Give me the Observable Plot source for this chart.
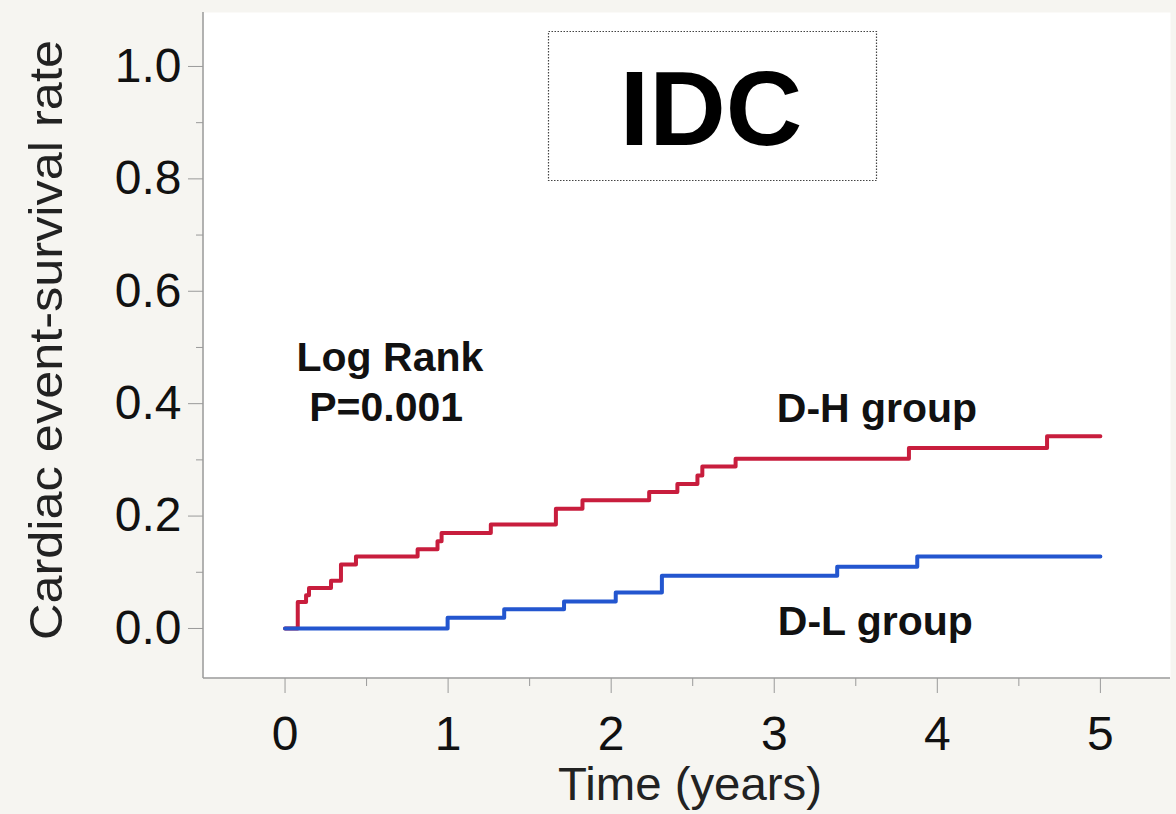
<!DOCTYPE html>
<html>
<head>
<meta charset="utf-8">
<script src="https://cdn.jsdelivr.net/npm/d3@7"></script>
<script src="https://cdn.jsdelivr.net/npm/@observablehq/plot@0.6"></script>
<style>
html, body { margin: 0; padding: 0; background: #f6f5f1; }
#chart { width: 1176px; height: 814px; position: relative; overflow: hidden; }
</style>
</head>
<body>
<div id="chart"></div>
<script>
// ---- data ----
const groups = ["D-H group", "D-L group"];
const groupColors = ["#c81d3d", "#2356cf"];

const dhTime = [0, 0.078, 0.129, 0.147, 0.282, 0.343, 0.435, 0.813, 0.935, 0.960, 1.262, 1.661, 1.824, 2.233, 2.406, 2.529, 2.559, 2.763, 3.826, 4.673, 5.0];
const dhRate = [0, 0.047, 0.059, 0.072, 0.085, 0.114, 0.128, 0.141, 0.155, 0.170, 0.185, 0.213, 0.228, 0.243, 0.257, 0.272, 0.288, 0.302, 0.321, 0.342, 0.342];

const dlTime = [0, 0.997, 1.344, 1.711, 2.028, 2.311, 3.386, 3.877, 5.0];
const dlRate = [0, 0.019, 0.034, 0.048, 0.064, 0.094, 0.110, 0.128, 0.128];

const xTicks = [0, 1, 2, 3, 4, 5];
const xMinorTicks = [0.5, 1.5, 2.5, 3.5, 4.5];
const yTicks = [0, 0.2, 0.4, 0.6, 0.8, 1.0];
const yMinorTicks = [0.1, 0.3, 0.5, 0.7, 0.9];

const titleText = "IDC";
const xLabel = "Time (years)";
const yLabel = "Cardiac event-survival rate";
const statLines = ["Log Rank", "P=0.001"];
const statTime = [0.643, 0.62];
const statRate = [0.482, 0.393];
const groupLabelTime = [3.63, 3.62];
const groupLabelRate = [0.39, 0.011];

// ---- tables built from the arrays ----
const rows = [
  ...dhTime.map((t, i) => ({group: groups[0], time: t, rate: dhRate[i]})),
  ...dlTime.map((t, i) => ({group: groups[1], time: t, rate: dlRate[i]}))
];
const statRows = statLines.map((s, i) => ({text: s, time: statTime[i], rate: statRate[i]}));
const groupRows = groups.map((g, i) => ({text: g, time: groupLabelTime[i], rate: groupLabelRate[i]}));

const FONT = "'Liberation Sans', Arial, Helvetica, sans-serif";
const AXIS_GREY = "#9a9a9a";

const plot = Plot.plot({
  width: 1176,
  height: 814,
  marginLeft: 203,
  marginTop: 12,
  marginRight: 6,
  marginBottom: 136,
  style: {background: "transparent", fontFamily: FONT, overflow: "visible"},
  x: {domain: [-0.5, 5.43]},
  y: {domain: [-0.089, 1.096]},
  color: {domain: groups, range: groupColors},
  marks: [
    Plot.frame({fill: "white", stroke: null}),
    Plot.axisY({ticks: yTicks, tickSize: 15, tickPadding: 7, tickFormat: d => d.toFixed(1), fontSize: 48, stroke: AXIS_GREY, fill: "#111", label: null}),
    Plot.axisY({ticks: yMinorTicks, tickSize: 7, tickFormat: () => "", stroke: AXIS_GREY, label: null}),
    Plot.axisX({ticks: xTicks, tickSize: 15, tickPadding: 22, tickFormat: d => String(d), fontSize: 48, stroke: AXIS_GREY, fill: "#111", label: null}),
    Plot.axisX({ticks: xMinorTicks, tickSize: 8, tickFormat: () => "", stroke: AXIS_GREY, label: null}),
    Plot.line(rows, {x: "time", y: "rate", z: "group", stroke: "group", strokeWidth: 4, curve: "step-after"}),
    Plot.text(statRows, {x: "time", y: "rate", text: "text", fontSize: 41, fontWeight: "bold", fill: "#111"}),
    Plot.text(groupRows, {x: "time", y: "rate", text: "text", fontSize: 41, fontWeight: "bold", fill: "#111"})
  ]
});

document.getElementById("chart").appendChild(plot);

// ---- axis lines (from the plot's own scale ranges) ----
const svg = d3.select(plot);
const [xLeft, xRight] = plot.scale("x").range;
const [yBottom, yTop] = plot.scale("y").range;
svg.append("line")
  .attr("x1", xLeft).attr("x2", xLeft).attr("y1", yTop).attr("y2", yBottom)
  .attr("stroke", AXIS_GREY).attr("stroke-width", 1.5);
svg.append("line")
  .attr("x1", xLeft).attr("x2", xRight).attr("y1", yBottom).attr("y2", yBottom)
  .attr("stroke", AXIS_GREY).attr("stroke-width", 1.5);

// ---- titles and the IDC box ----
svg.append("text")
  .attr("transform", "translate(62,340) rotate(-90)")
  .attr("text-anchor", "middle")
  .attr("font-family", FONT)
  .attr("font-size", 46)
  .attr("fill", "#222")
  .attr("textLength", 600)
  .attr("lengthAdjust", "spacingAndGlyphs")
  .text(yLabel);

svg.append("text")
  .attr("x", 690)
  .attr("y", 800)
  .attr("text-anchor", "middle")
  .attr("font-family", FONT)
  .attr("font-size", 46)
  .attr("fill", "#222")
  .attr("textLength", 264)
  .attr("lengthAdjust", "spacingAndGlyphs")
  .text(xLabel);

svg.append("rect")
  .attr("x", 548.5).attr("y", 31.5)
  .attr("width", 328).attr("height", 149)
  .attr("fill", "white")
  .attr("stroke", "#444")
  .attr("stroke-width", 1.2)
  .attr("stroke-dasharray", "1.5,1.5");

svg.append("text")
  .attr("x", 711)
  .attr("y", 145)
  .attr("text-anchor", "middle")
  .attr("font-family", FONT)
  .attr("font-weight", "bold")
  .attr("font-size", 106)
  .attr("fill", "#000")
  .text(titleText);
</script>
</body>
</html>
